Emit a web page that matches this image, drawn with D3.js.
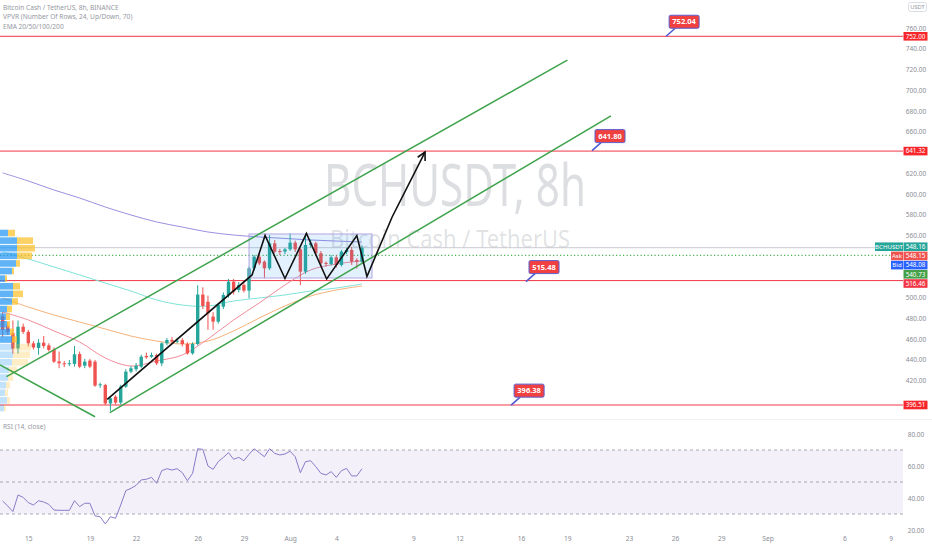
<!DOCTYPE html>
<html><head><meta charset="utf-8">
<script src="https://cdn.jsdelivr.net/npm/d3@7/dist/d3.min.js"></script>
<style>html,body{margin:0;padding:0;background:#fff;}svg{display:block;}text{font-family:"Noto Sans",Roboto,sans-serif;}</style>
</head><body>
<svg id="chart" width="932" height="550"></svg>
<script>
// ---------------- DATA ----------------
const candleStart = "2021-07-13T08:00:00Z";   // first visible 8h candle
const candleHours = 8;
const opens  = [482,473,466,451,472,467,456,451.5,456.6,454,450,438.5,436.7,436.5,436.1,445.7,434.4,439.3,438.3,415.5,415.8,398,404.5,398.8,414.2,428.7,431,433.5,443.8,443.1,444.7,436.7,456,459.2,458,459,455.3,446.3,455.3,503,496,481.7,476.9,491.3,502.6,515.4,507.4,512.2,506.8,528.3,539.5,534.7,528.3,552.4,545,544.4,546.6,553,546.6,525.1,550.8,552.4,542.8,533.5,532.5,538.9,531.5,544,546,536.3,534.7];
const highs  = [486,476,478,478,475,469,458,460,463,456,452,448,439,440,453.4,448,441,441,440,418,417,404,406,416,431,434,437,445,447,447,446,457,461,462,461,461,457,457,512,510,502,486,495,505,518,518,515,514,530,541,542.8,536,560.4,555.6,547,548,562,555,548,562,556,554,545,535,541,541,546,548,549,538,550];
const lows   = [462,464,446,446,465,453,450,445,451,448,437,432,433,434,433.5,432,432,432,414,413,396.5,391,397,397,413,427,429,432,441,442,435,434,454,455,456,453,445,445,454,489,469,469,475,489,500,503,505,505,499.4,526,531.5,518.7,526.7,542.8,541,542,545,544,512.2,523,548,540,531,530,531,529,530,542,531.5,528,533];
const closes = [469,467,451,472,467,456,452,456.6,453.4,449.6,438.3,436.7,436.2,436.8,445.4,433.5,438.3,433.5,415.2,416.5,398,403,398.8,414.2,428.7,431.9,434.4,443.1,442.5,444.7,436.7,456,459.2,457.6,458.5,455.3,446.3,455.3,503,492,485,476.9,493,502.6,515.4,505.8,512.2,506.8,528.3,539.5,533.1,528.3,552.4,544.4,544,546.6,553,546.6,525.1,550.8,552.4,542.8,533.1,532.5,538.9,531.5,544.4,546,534.7,534.7,548.16];
const rsi = [38.1,35.0,31.5,41.9,40.4,37.1,35.6,38.3,37.5,36.0,32.5,32.3,32.3,32.3,38.3,34.6,36.7,36.7,28.8,28.3,23.8,28.3,27.3,35.6,44.6,46.0,47.9,51.3,51.7,52.9,49.2,57.1,58.3,57.5,58.3,55.8,50.8,55.4,70.8,70.4,60.0,57.9,62.7,65.4,68.3,64.2,65.4,63.3,67.3,70.8,68.3,65.8,70.8,67.9,66.9,67.5,69.2,65.8,55.8,62.7,63.3,59.6,55.4,54.4,56.5,52.9,57.1,58.5,53.8,53.8,58.3];

// EMA values read at these candle indices
const emaIndex = [0,5,10,15,20,25,30,35,40,45,50,55,60,65,70];
const ema20  = [486.2,478.5,467.9,457.3,441.8,434.1,439.0,444.7,460.2,478.5,494.9,512.2,526.7,532.5,535.4];
const ema50  = [499.7,491.0,483.3,476.5,469.8,463.0,458.2,455.3,458.2,467.9,480.4,492.0,501.6,507.4,511.3];
const ema100 = [544.0,537.3,529.6,521.9,514.1,506.4,497.8,492.9,491.9,496.8,499.7,502.6,506.4,509.3,513.2];
const ema200 = [620.3,612.5,603.8,596.1,587.4,579.7,573.0,568.1,563.3,560.4,558.5,557.1,555.6,554.6,553.7];

// Volume profile (24 rows, bottom -> top)
const vpLow = 390, vpHigh = 566;
const vpUp   = [4,7,5,6,8,9,12,13,13,12,10,7,6,7,12,13,13,5,12,16,17,17,17,8];
const vpDown = [2,3,3,4,5,8,16,17,18,5,4,3,4,5,6,10,7,2,2,4,15,18,16,7];
const vpValueAreaFrom = 9;

// Horizontal levels and callouts
const levels = [752.00, 641.32, 516.46, 396.51];
const callouts = [
  {t:"2021-08-25T10:00:00Z", p:752.04},
  {t:"2021-08-20T14:30:00Z", p:641.80},
  {t:"2021-08-16T07:40:00Z", p:515.48},
  {t:"2021-08-15T08:25:00Z", p:396.38}
];
// Drawings
const upperChannel = [["2021-07-13T14:00:00Z",423.8],["2021-08-19T00:00:00Z",729.1]];
const lowerChannel = [["2021-07-20T07:00:00Z",389.1],["2021-08-21T20:00:00Z",675.2]];
const descLine     = [["2021-07-13T04:00:00Z",435.1],["2021-07-19T08:00:00Z",385.2]];
const pathPoints = [
  ["2021-07-20T03:00:00Z",402.0],["2021-07-29T12:40:00Z",521.9],["2021-07-30T09:00:00Z",559.9],
  ["2021-07-31T16:00:00Z",518.5],["2021-08-02T01:30:00Z",561.9],["2021-08-03T09:00:00Z",518.0],
  ["2021-08-05T08:00:00Z",559.9],["2021-08-05T23:45:00Z",520.4],["2021-08-07T15:00:00Z",577.8],
  ["2021-08-09T18:15:00Z",640.4]
];
const rangeBox = [["2021-07-29T08:00:00Z",561.4],["2021-08-06T07:40:00Z",518.96]];

const lastPrice = 548.16;
const dottedLevel = 540.73;
const stackLabels = [
  {name:"BCHUSDT", v:548.16, c:"#26a69a"},
  {name:"Ask", v:548.15, c:"#ef5350"},
  {name:"Bid", v:548.08, c:"#2962ff"},
  {name:null, v:540.73, c:"#43a047"},
  {name:null, v:516.46, c:"#f23645"}
];
const levelLabels = [752.00, 641.32, 396.51];

const priceTicks = [760,740,720,700,680,660,620,600,580,560,500,480,460,440,420];
const rsiTicks = [20,40,60,80];
const rsiBands = [70,50,30];
const timeTicks = [["2021-07-15","15"],["2021-07-19","19"],["2021-07-22","22"],["2021-07-26","26"],["2021-07-29","29"],
  ["2021-08-01","Aug"],["2021-08-04","4"],["2021-08-09","9"],["2021-08-12","12"],["2021-08-16","16"],["2021-08-19","19"],
  ["2021-08-23","23"],["2021-08-26","26"],["2021-08-29","29"],["2021-09-01","Sep"],["2021-09-06","6"],["2021-09-09","9"]];
const legendLines = ["Bitcoin Cash / TetherUS, 8h, BINANCE","VPVR (Number Of Rows, 24, Up/Down, 70)","EMA 20/50/100/200"];

// ---------------- SCALES ----------------
const svg = d3.select("#chart");
const W = 932, H = 550, plotR = 903, mainBottom = 419;
const x = d3.scaleUtc().domain([new Date("2021-07-15T00:00:00Z"), new Date("2021-09-09T00:00:00Z")]).range([28.3, 890.7]);
const y = d3.scaleLinear().domain([396.51, 752]).range([405, 36.3]);
const yr = d3.scaleLinear().domain([20, 80]).range([530, 434]);
const t0 = new Date(candleStart).getTime();
const candleTime = i => new Date(t0 + i * candleHours * 3600 * 1000);
const P = d => [x(new Date(d[0])), y(d[1])];

svg.append("rect").attr("width", W).attr("height", H).attr("fill", "#fff");
const defs = svg.append("defs");
defs.append("clipPath").attr("id","mainClip").append("rect").attr("x",0).attr("y",0).attr("width",plotR).attr("height",mainBottom);
defs.append("clipPath").attr("id","rsiClip").append("rect").attr("x",0).attr("y",mainBottom+1).attr("width",plotR).attr("height",H-mainBottom-20);

const main = svg.append("g").attr("clip-path","url(#mainClip)");

// watermark
main.append("text").attr("x",455).attr("y",206).attr("text-anchor","middle")
  .attr("font-size",58).attr("fill","#787b86").attr("fill-opacity",0.25)
  .attr("textLength",262).attr("lengthAdjust","spacingAndGlyphs").text("BCHUSDT, 8h");
main.append("text").attr("x",450).attr("y",248).attr("text-anchor","middle")
  .attr("font-size",25).attr("fill","#787b86").attr("fill-opacity",0.22)
  .attr("textLength",240).attr("lengthAdjust","spacingAndGlyphs").text("Bitcoin Cash / TetherUS");

// last price line and dotted level
main.append("line").attr("x1",0).attr("x2",plotR).attr("y1",y(lastPrice)).attr("y2",y(lastPrice))
  .attr("stroke","#c9cbd1").attr("stroke-width",1);
main.append("line").attr("x1",0).attr("x2",plotR).attr("y1",y(dottedLevel)).attr("y2",y(dottedLevel))
  .attr("stroke","#4caf50").attr("stroke-width",1.2).attr("stroke-dasharray","1.2,2.3");

// horizontal red levels
main.selectAll("line.lvl").data(levels).join("line").attr("class","lvl")
  .attr("x1",0).attr("x2",plotR).attr("y1",d=>y(d)).attr("y2",d=>y(d))
  .attr("stroke","#f23645").attr("stroke-width",1);

// EMAs
const emaLine = d3.line().x(d=>x(candleTime(d[0]))).y(d=>y(d[1])).curve(d3.curveCatmullRom);
[[ema200,"#9c8fe0"],[ema100,"#7fe3d8"],[ema50,"#f5b27a"],[ema20,"#f28b9b"]].forEach(([arr,c])=>{
  main.append("path").attr("d", emaLine(emaIndex.map((ix,k)=>[ix,arr[k]])))
    .attr("fill","none").attr("stroke",c).attr("stroke-width",1);
});

// candles
const bw = 3.4;
const cg = main.append("g");
opens.forEach((o,i)=>{
  const c = closes[i], up = c >= o, col = up ? "#26a69a" : "#ef5350";
  const cx = x(candleTime(i));
  cg.append("line").attr("x1",cx).attr("x2",cx).attr("y1",y(highs[i])).attr("y2",y(lows[i]))
    .attr("stroke",col).attr("stroke-width",1);
  const top = y(Math.max(o,c)), bot = y(Math.min(o,c));
  cg.append("rect").attr("x",cx-bw/2).attr("y",top).attr("width",bw).attr("height",Math.max(1,bot-top)).attr("fill",col);
});

// range box
const b0 = P(rangeBox[0]), b1 = P(rangeBox[1]);
main.append("rect").attr("x",b0[0]).attr("y",b0[1]).attr("width",b1[0]-b0[0]).attr("height",b1[1]-b0[1])
  .attr("fill","rgba(33,150,243,0.13)").attr("stroke","#b3a5e3").attr("stroke-width",1);

// volume profile
const vpx = d3.scaleLinear().domain([0,40]).range([0,40]);
const rowH = (vpHigh - vpLow) / vpUp.length;
const vpg = main.append("g");
vpUp.forEach((u,k)=>{
  const pLo = vpLow + k*rowH, pHi = pLo + rowH;
  const yt = y(pHi)+0.5, h = y(pLo)-y(pHi)-1;
  const va = k >= vpValueAreaFrom;
  vpg.append("rect").attr("x",0).attr("y",yt).attr("width",vpx(u)).attr("height",h)
    .attr("fill", va ? "rgba(33,150,243,0.72)" : "rgba(33,150,243,0.28)");
  vpg.append("rect").attr("x",vpx(u)).attr("y",yt).attr("width",vpx(vpDown[k])).attr("height",h)
    .attr("fill", va ? "rgba(251,192,45,0.72)" : "rgba(251,192,45,0.28)");
});

// channel lines
[upperChannel, lowerChannel, descLine].forEach(seg=>{
  const a = P(seg[0]), b = P(seg[1]);
  main.append("line").attr("x1",a[0]).attr("y1",a[1]).attr("x2",b[0]).attr("y2",b[1])
    .attr("stroke","#3fa34d").attr("stroke-width",1.5);
});

// black path + arrow head
const pp = pathPoints.map(P);
main.append("path").attr("d", d3.line()(pp)).attr("fill","none").attr("stroke","#111").attr("stroke-width",1.6).attr("stroke-linejoin","miter");
{
  const tip = pp[pp.length-1], prev = pp[pp.length-2];
  const ang = Math.atan2(tip[1]-prev[1], tip[0]-prev[0]);
  const L = 9, spread = Math.PI/6.5;
  const a1 = [tip[0]-L*Math.cos(ang-spread), tip[1]-L*Math.sin(ang-spread)];
  const a2 = [tip[0]-L*Math.cos(ang+spread), tip[1]-L*Math.sin(ang+spread)];
  main.append("path").attr("d", d3.line()([a1,tip,a2])).attr("fill","none").attr("stroke","#111").attr("stroke-width",1.6);
}

// callouts
callouts.forEach(c=>{
  const ax = x(new Date(c.t)), ay = y(c.p);
  const bx = ax + 3, bb = ay - 8, bwid = 30, bh = 13;
  main.append("line").attr("x1",ax).attr("y1",ay).attr("x2",ax+9).attr("y2",bb)
    .attr("stroke","#4e5bd4").attr("stroke-width",1.6);
  main.append("rect").attr("x",bx).attr("y",bb-bh).attr("width",bwid).attr("height",bh).attr("rx",1.5)
    .attr("fill","#f0403f").attr("stroke","#5a5fd2").attr("stroke-width",1);
  main.append("text").attr("x",bx+bwid/2).attr("y",bb-bh/2+2.6).attr("text-anchor","middle")
    .attr("font-size",7.5).attr("font-weight","bold").attr("fill","#fff").text(c.p.toFixed(2));
});

// legend
legendLines.forEach((s,i)=>{
  svg.append("text").attr("x",3).attr("y",9.5+i*9.5).attr("font-size",6.6).attr("fill","#9598a1").text(s);
});

// separator
svg.append("line").attr("x1",0).attr("x2",W).attr("y1",mainBottom+0.5).attr("y2",mainBottom+0.5).attr("stroke","#f0f1f4");

// ---------------- RSI ----------------
const rg = svg.append("g").attr("clip-path","url(#rsiClip)");
rg.append("rect").attr("x",0).attr("width",plotR).attr("y",yr(70)).attr("height",yr(30)-yr(70)).attr("fill","rgba(126,87,194,0.09)");
rg.selectAll("line.band").data(rsiBands).join("line").attr("class","band")
  .attr("x1",0).attr("x2",plotR).attr("y1",d=>yr(d)).attr("y2",d=>yr(d))
  .attr("stroke","#9598a1").attr("stroke-width",0.8).attr("stroke-dasharray","3,3");
rg.append("path").attr("d", d3.line().x((d,i)=>x(candleTime(i))).y(d=>yr(d))(rsi))
  .attr("fill","none").attr("stroke","#8a7cc9").attr("stroke-width",1);
svg.append("text").attr("x",3).attr("y",429).attr("font-size",6.6).attr("fill","#9598a1").text("RSI (14, close)");

// ---------------- AXES ----------------
const fmt = d3.format(".2f");
const pa = svg.append("g").attr("transform","translate(916,0)")
  .call(d3.axisRight(y).tickValues(priceTicks).tickFormat(fmt).tickSize(0).tickPadding(0));
pa.select(".domain").remove();
pa.selectAll("text").attr("text-anchor","middle").attr("font-size",6.5).attr("fill","#8a8d96").attr("font-family","Noto Sans, sans-serif");

const ra = svg.append("g").attr("transform","translate(916,0)")
  .call(d3.axisRight(yr).tickValues(rsiTicks).tickFormat(fmt).tickSize(0).tickPadding(0));
ra.select(".domain").remove();
ra.selectAll("text").attr("text-anchor","middle").attr("font-size",6.5).attr("fill","#8a8d96").attr("font-family","Noto Sans, sans-serif");

const tmap = new Map(timeTicks.map(d=>[new Date(d[0]+"T00:00:00Z").getTime(), d[1]]));
const ta = svg.append("g").attr("transform","translate(0,536)")
  .call(d3.axisBottom(x).tickValues(timeTicks.map(d=>new Date(d[0]+"T00:00:00Z"))).tickFormat(d=>tmap.get(d.getTime())).tickSize(0).tickPadding(0));
ta.select(".domain").remove();
ta.selectAll("text").attr("font-size",6.6).attr("fill","#8a8d96").attr("font-family","Noto Sans, sans-serif");

// USDT badge
svg.append("rect").attr("x",908.5).attr("y",2.5).attr("width",18).attr("height",9).attr("rx",2)
  .attr("fill","#fff").attr("stroke","#d1d4dc").attr("stroke-width",0.8);
svg.append("text").attr("x",917.5).attr("y",9.3).attr("text-anchor","middle").attr("font-size",5.8).attr("fill","#9598a1").text("USDT");

// level labels on axis
const lblW = 24, lblH = 8.6;
function axisLabel(yc, txt, col){
  svg.append("rect").attr("x",903.5).attr("y",yc-lblH/2).attr("width",lblW).attr("height",lblH).attr("fill",col);
  svg.append("text").attr("x",903.5+lblW/2).attr("y",yc+2.2).attr("text-anchor","middle").attr("font-size",6.3).attr("fill","#fff").text(txt);
}
levelLabels.forEach(v=>axisLabel(y(v), fmt(v), "#f7262b"));
let prevY = -Infinity;
stackLabels.forEach(s=>{
  let yc = Math.max(y(s.v), prevY + lblH + 0.6);
  if (prevY === -Infinity) yc = y(s.v) - 1;
  prevY = yc;
  axisLabel(yc, fmt(s.v), s.c);
  if (s.name){
    const w = s.name.length > 3 ? 28 : 12;
    svg.append("rect").attr("x",903-w).attr("y",yc-lblH/2).attr("width",w).attr("height",lblH).attr("fill",s.c);
    svg.append("text").attr("x",903-w/2).attr("y",yc+2.2).attr("text-anchor","middle").attr("font-size",6.1).attr("fill","#fff").text(s.name);
  }
});
</script>
</body></html>
